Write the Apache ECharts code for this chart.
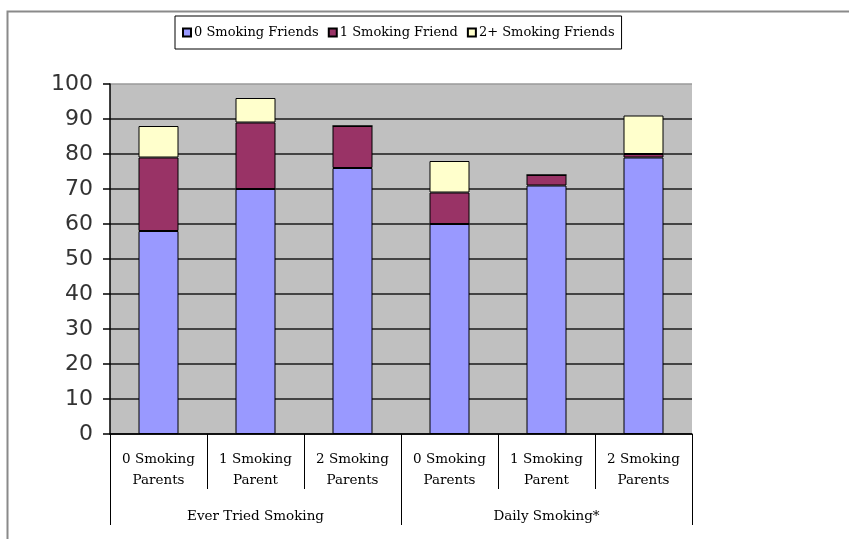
<!DOCTYPE html>
<html>
<head>
<meta charset="utf-8">
<script src="https://cdn.jsdelivr.net/npm/echarts@6/dist/echarts.min.js"></script>
<style>
  html, body { margin: 0; padding: 0; background: #fff; }
  #chart { width: 849px; height: 539px; }
</style>
</head>
<body>
<div id="chart"></div>
<script>
// categories
const parentGroups = ["0 Smoking\nParents", "1 Smoking\nParent", "2 Smoking\nParents",
                      "0 Smoking\nParents", "1 Smoking\nParent", "2 Smoking\nParents"];
const outcomeGroups = ["Ever Tried Smoking", "Daily Smoking*"];

// series values (stacked, % )
const zeroFriends = [58, 70, 76, 60, 71, 79];
const oneFriend = [21, 19, 12, 9, 3, 1];
const twoPlusFriends = [9, 7, 0, 9, 0, 11];

const seriesNames = ["0 Smoking Friends", "1 Smoking Friend", "2+ Smoking Friends"];
const yTicks = { min: 0, max: 100, interval: 10 };

const colors = ["#9999ff", "#993366", "#ffffcc"];
const serif = "DejaVu Serif";

const chart = echarts.init(document.getElementById("chart"));

function barSeries(name, data, color) {
  return {
    name: name,
    type: "bar",
    stack: "total",
    barWidth: 40,
    xAxisIndex: 0,
    data: data,
    itemStyle: { color: color, borderColor: "#000", borderWidth: 1 }
  };
}

// lighter line on top of the plot area, black for the rest
const gridColors = [];
for (let i = 0; i < 10; i++) gridColors.push("#1a1a1a");
gridColors.push("#9a9a9a");

chart.setOption({
  animation: false,
  backgroundColor: "#fff",
  color: colors,
  graphic: [
    {
      type: "polyline",
      shape: { points: [[7.5, 539], [7.5, 11.5], [849, 11.5]] },
      style: { stroke: "#8a8a8a", lineWidth: 2, fill: null }
    }
  ],
  legend: {
    left: 175,
    top: 16,
    padding: [10, 7],
    itemGap: 9,
    itemWidth: 8,
    itemHeight: 8,
    icon: "rect",
    borderColor: "#000",
    borderWidth: 1,
    textStyle: { fontFamily: serif, fontSize: 13, color: "#000", padding: [0, 0, 0, -2] },
    data: seriesNames
  },
  grid: {
    left: 110,
    right: 157,
    top: 84,
    bottom: 105,
    show: true,
    backgroundColor: "#c0c0c0",
    borderWidth: 0
  },
  xAxis: [
    {
      type: "category",
      data: parentGroups,
      position: "bottom",
      axisLine: { show: true, lineStyle: { color: "#000", width: 1.5 } },
      axisTick: { show: true, length: 55, lineStyle: { color: "#000", width: 1 } },
      axisLabel: {
        interval: 0,
        margin: 15,
        fontFamily: serif,
        fontSize: 13.5,
        lineHeight: 21,
        color: "#000"
      }
    },
    {
      type: "category",
      data: outcomeGroups,
      position: "bottom",
      axisLine: { show: false },
      axisTick: { show: true, length: 91, lineStyle: { color: "#000", width: 1 } },
      axisLabel: {
        interval: 0,
        margin: 75,
        fontFamily: serif,
        fontSize: 13.5,
        color: "#000"
      }
    }
  ],
  yAxis: {
    type: "value",
    min: yTicks.min,
    max: yTicks.max,
    interval: yTicks.interval,
    axisLine: { show: true, lineStyle: { color: "#000", width: 1.5 } },
    axisTick: { show: true, length: 7, lineStyle: { color: "#000", width: 1.5 } },
    axisLabel: {
      margin: 17,
      fontFamily: "DejaVu Sans",
      fontSize: 22,
      color: "#333"
    },
    splitLine: { show: true, lineStyle: { color: gridColors, width: 1.5 } }
  },
  series: [
    barSeries(seriesNames[0], zeroFriends, colors[0]),
    barSeries(seriesNames[1], oneFriend, colors[1]),
    barSeries(seriesNames[2], twoPlusFriends, colors[2])
  ]
});
</script>
</body>
</html>
